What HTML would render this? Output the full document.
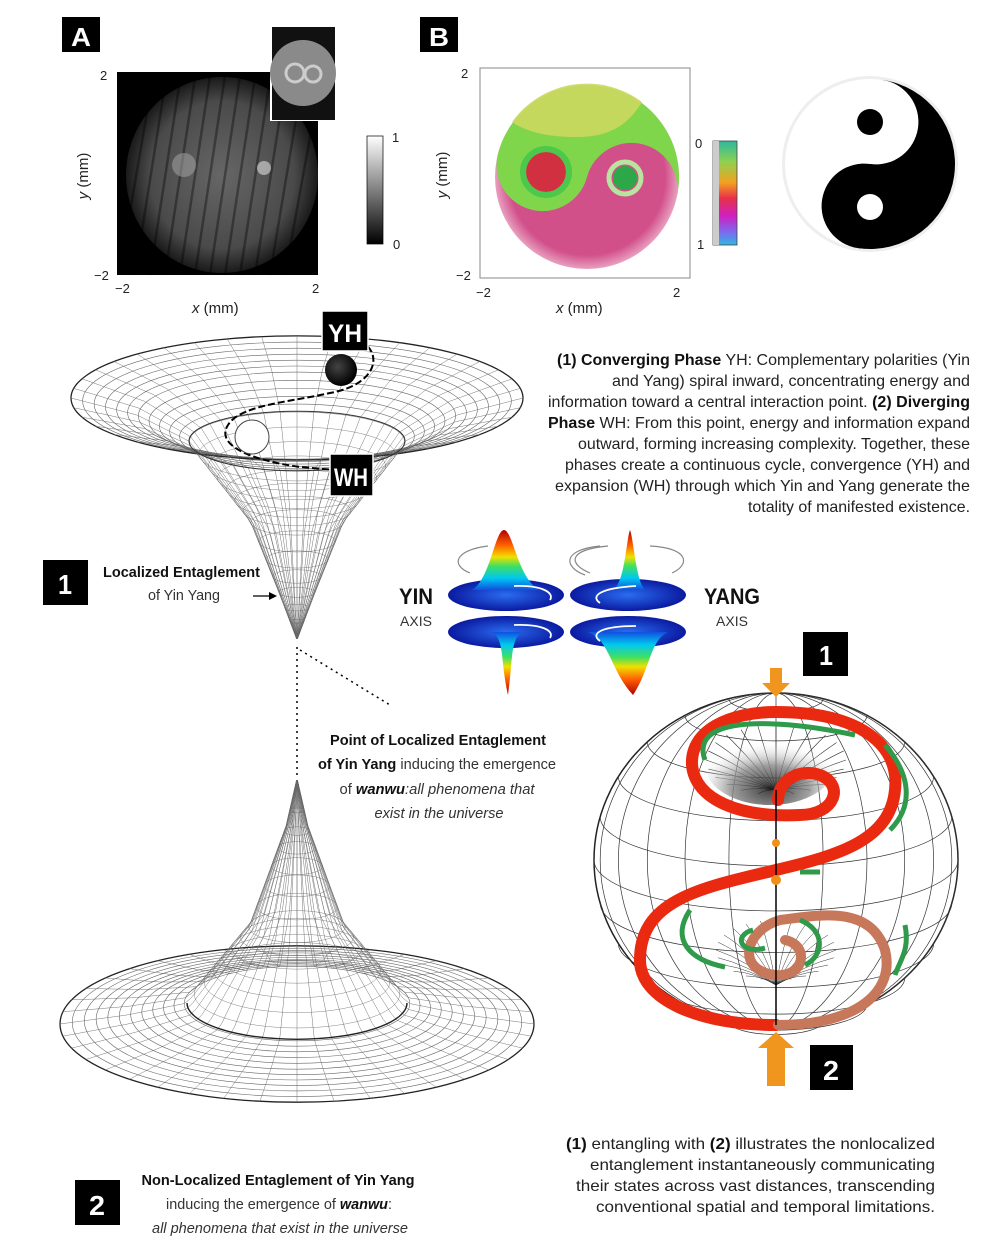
<!DOCTYPE html>
<html><head><meta charset="utf-8">
<style>
html,body{margin:0;padding:0;background:#fff;}
svg{display:block;font-family:"Liberation Sans",sans-serif;}
.t{font-size:16px;fill:#222;}
.b{font-weight:bold;fill:#111;}
.i{font-style:italic;}
</style></head><body>
<svg id="s" width="1000" height="1250" viewBox="0 0 1000 1250" xmlns="http://www.w3.org/2000/svg">
<defs>
<radialGradient id="gA" cx="0.5" cy="0.5" r="0.5"><stop offset="0" stop-color="#666"/><stop offset="0.75" stop-color="#4a4a4a"/><stop offset="1" stop-color="#1a1a1a"/></radialGradient>
<linearGradient id="cbA" x1="0" y1="0" x2="0" y2="1"><stop offset="0" stop-color="#fff"/><stop offset="1" stop-color="#000"/></linearGradient>
<linearGradient id="cbB" x1="0" y1="0" x2="0" y2="1"><stop offset="0" stop-color="#2cb9a0"/><stop offset="0.2" stop-color="#8fd14f"/><stop offset="0.4" stop-color="#f4a020"/><stop offset="0.55" stop-color="#e8304a"/><stop offset="0.72" stop-color="#d020c0"/><stop offset="0.88" stop-color="#7a6cf0"/><stop offset="1" stop-color="#30b8e0"/></linearGradient>
<linearGradient id="peakUp" x1="0" y1="0" x2="0" y2="1"><stop offset="0" stop-color="#b00000"/><stop offset="0.25" stop-color="#ff6000"/><stop offset="0.45" stop-color="#f0e000"/><stop offset="0.6" stop-color="#40e060"/><stop offset="0.8" stop-color="#00c8f0"/><stop offset="1" stop-color="#1050e0"/></linearGradient>
<linearGradient id="peakDn" x1="0" y1="1" x2="0" y2="0"><stop offset="0" stop-color="#b00000"/><stop offset="0.25" stop-color="#ff6000"/><stop offset="0.45" stop-color="#f0e000"/><stop offset="0.6" stop-color="#40e060"/><stop offset="0.8" stop-color="#00c8f0"/><stop offset="1" stop-color="#1050e0"/></linearGradient>
<radialGradient id="disc" cx="0.5" cy="0.5" r="0.5"><stop offset="0" stop-color="#2a6cf0"/><stop offset="1" stop-color="#0a1aa0"/></radialGradient>
<radialGradient id="ball" cx="0.4" cy="0.4" r="0.6"><stop offset="0" stop-color="#444"/><stop offset="1" stop-color="#000"/></radialGradient>
<radialGradient id="hole" cx="0.5" cy="0.8" r="0.6"><stop offset="0" stop-color="#111"/><stop offset="0.5" stop-color="#888"/><stop offset="1" stop-color="#fff" stop-opacity="0"/></radialGradient>
<radialGradient id="pk" cx="0.5" cy="0.5" r="0.5"><stop offset="0.85" stop-color="#d2508a"/><stop offset="1" stop-color="#e8a0c0"/></radialGradient>
<clipPath id="rh"><rect x="0" y="-90" width="90" height="180"/></clipPath>
</defs>

<!-- Panel A -->
<rect x="62" y="17" width="38" height="35" fill="#000"/>
<text x="81" y="46" font-size="26" font-weight="bold" fill="#fff" text-anchor="middle" textLength="20" lengthAdjust="spacingAndGlyphs">A</text>
<rect x="117" y="72" width="201" height="203" fill="#000"/>
<ellipse cx="222" cy="175" rx="96" ry="98" fill="url(#gA)"/>
<g stroke="#000" stroke-width="2.5" opacity="0.35">
<line x1="150" y1="95" x2="120" y2="270"/><line x1="165" y1="85" x2="135" y2="275"/><line x1="180" y1="80" x2="150" y2="275"/><line x1="195" y1="78" x2="165" y2="275"/><line x1="210" y1="76" x2="180" y2="275"/><line x1="225" y1="76" x2="195" y2="275"/><line x1="240" y1="76" x2="210" y2="275"/><line x1="255" y1="78" x2="225" y2="275"/><line x1="270" y1="80" x2="240" y2="275"/><line x1="285" y1="85" x2="255" y2="275"/><line x1="300" y1="95" x2="270" y2="275"/><line x1="315" y1="110" x2="285" y2="275"/>
</g>
<circle cx="184" cy="165" r="12" fill="#aaa" opacity="0.5"/><circle cx="264" cy="168" r="7" fill="#ddd" opacity="0.6"/>
<rect x="270" y="26" width="66" height="95" fill="#fff"/>
<rect x="272" y="27" width="63" height="93" fill="#111"/>
<circle cx="303" cy="73" r="33" fill="#8a8a8a"/>
<circle cx="295" cy="73" r="9" fill="none" stroke="#ccc" stroke-width="3"/><circle cx="313" cy="74" r="8" fill="none" stroke="#ccc" stroke-width="3"/>
<rect x="367" y="136" width="16" height="108" fill="url(#cbA)" stroke="#000" stroke-width="0.7"/>
<text x="392" y="142" font-size="13" fill="#222">1</text><text x="393" y="249" font-size="13" fill="#222">0</text>
<text x="100" y="80" font-size="13" fill="#222">2</text>
<text x="94" y="280" font-size="13" fill="#222">−2</text>
<text x="115" y="293" font-size="13" fill="#222">−2</text>
<text x="312" y="293" font-size="13" fill="#222">2</text>
<text x="192" y="313" font-size="15" fill="#222"><tspan font-style="italic">x</tspan> (mm)</text>
<text transform="translate(88,176) rotate(-90)" font-size="15" fill="#222" text-anchor="middle"><tspan font-style="italic">y</tspan> (mm)</text>

<!-- Panel B -->
<rect x="420" y="17" width="38" height="35" fill="#000"/>
<text x="439" y="46" font-size="26" font-weight="bold" fill="#fff" text-anchor="middle" textLength="20" lengthAdjust="spacingAndGlyphs">B</text>
<rect x="480" y="68" width="210" height="210" fill="#fff" stroke="#888" stroke-width="1"/>
<g transform="translate(587,177)">
<circle r="92" fill="url(#pk)"/>
<g transform="scale(-1,1) rotate(75)">
<path d="M0,-92 A92,92 0 0 0 0,92 A46,46 0 0 1 0,0 A46,46 0 0 0 0,-92Z" fill="#7fd64a"/>
</g>
<path d="M-75,-55 A92,92 0 0 1 55,-75 C40,-50 20,-40 -10,-40 C-40,-40 -60,-45 -75,-55Z" fill="#cdd860" opacity="0.9"/>
<circle cx="-41" cy="-5" r="20" fill="#d03040"/><circle cx="-41" cy="-5" r="23" fill="none" stroke="#4cc84c" stroke-width="6"/>
<circle cx="38" cy="1" r="12" fill="#2ca848"/><circle cx="38" cy="1" r="16" fill="none" stroke="#b8e4a0" stroke-width="5"/>
</g>
<rect x="713" y="141" width="24" height="104" fill="url(#cbB)" stroke="#444" stroke-width="0.8"/>
<rect x="713" y="141" width="6" height="104" fill="#ccc"/>
<text x="695" y="148" font-size="13" fill="#222">0</text><text x="697" y="249" font-size="13" fill="#222">1</text>
<text x="461" y="78" font-size="13" fill="#222">2</text>
<text x="456" y="280" font-size="13" fill="#222">−2</text>
<text x="476" y="297" font-size="13" fill="#222">−2</text>
<text x="673" y="297" font-size="13" fill="#222">2</text>
<text x="556" y="313" font-size="15" fill="#222"><tspan font-style="italic">x</tspan> (mm)</text>
<text transform="translate(447,175) rotate(-90)" font-size="15" fill="#222" text-anchor="middle"><tspan font-style="italic">y</tspan> (mm)</text>

<!-- Yin yang -->
<circle cx="870" cy="164" r="88" fill="#ddd" opacity="0.5"/>
<g transform="translate(870,164) rotate(8)">
<circle r="85" fill="#fff"/>
<circle r="85" fill="#000" clip-path="url(#rh)"/>
<circle cx="0" cy="-42.5" r="42.5" fill="#fff"/>
<circle cx="0" cy="42.5" r="42.5" fill="#000"/>
</g>
<circle cx="870" cy="122" r="13" fill="#000"/>
<circle cx="870" cy="207" r="13" fill="#fff"/>

<!-- wormholes -->
<g id="wh1" fill="none" stroke="#666" stroke-width="0.6"></g>
<g id="wh2" fill="none" stroke="#666" stroke-width="0.6"></g>

<!-- dashed path -->
<path d="M360,340 C385,355 375,385 330,393 C290,402 240,405 228,425 C215,445 250,460 300,467 L335,470" fill="none" stroke="#000" stroke-width="2" stroke-dasharray="7,3"/>
<circle cx="341" cy="370" r="16" fill="url(#ball)"/>
<circle cx="252" cy="437" r="17" fill="#fff" stroke="#444" stroke-width="1"/>
<rect x="322" y="311" width="46" height="40" fill="#000" stroke="#fff" stroke-width="1.5"/>
<text x="345" y="342" font-size="25" font-weight="bold" fill="#fff" text-anchor="middle" textLength="34" lengthAdjust="spacingAndGlyphs">YH</text>
<rect x="330" y="454" width="43" height="42" fill="#000" stroke="#fff" stroke-width="1.5"/>
<text x="351" y="486" font-size="25" font-weight="bold" fill="#fff" text-anchor="middle" textLength="34" lengthAdjust="spacingAndGlyphs">WH</text>

<!-- dotted connectors -->
<line x1="297" y1="647" x2="297" y2="775" stroke="#000" stroke-width="1.5" stroke-dasharray="2,4"/>
<line x1="300" y1="650" x2="390" y2="705" stroke="#000" stroke-width="1.5" stroke-dasharray="2,4"/>

<!-- paragraph -->
<g class="t" text-anchor="end">
<text x="970" y="365" textLength="413" lengthAdjust="spacingAndGlyphs"><tspan class="b">(1) Converging Phase</tspan> YH: Complementary polarities (Yin</text>
<text x="970" y="386" textLength="358" lengthAdjust="spacingAndGlyphs">and Yang) spiral inward, concentrating energy and</text>
<text x="970" y="407" textLength="422" lengthAdjust="spacingAndGlyphs">information toward a central interaction point. <tspan class="b">(2) Diverging</tspan></text>
<text x="970" y="428" textLength="422" lengthAdjust="spacingAndGlyphs"><tspan class="b">Phase</tspan> WH: From this point, energy and information expand</text>
<text x="970" y="449" textLength="392" lengthAdjust="spacingAndGlyphs">outward, forming increasing complexity. Together, these</text>
<text x="970" y="470" textLength="405" lengthAdjust="spacingAndGlyphs">phases create a continuous cycle, convergence (YH) and</text>
<text x="970" y="491" textLength="415" lengthAdjust="spacingAndGlyphs">expansion (WH) through which Yin and Yang generate the</text>
<text x="970" y="512" textLength="222" lengthAdjust="spacingAndGlyphs">totality of manifested existence.</text>
</g>

<!-- label 1 left -->
<rect x="43" y="560" width="45" height="45" fill="#000"/>
<text x="65" y="594" font-size="28" font-weight="bold" fill="#fff" text-anchor="middle" textLength="14" lengthAdjust="spacingAndGlyphs">1</text>
<text x="103" y="577" font-size="15" class="b" textLength="157" lengthAdjust="spacingAndGlyphs">Localized Entaglement</text>
<text x="148" y="600" font-size="15" fill="#333" textLength="72" lengthAdjust="spacingAndGlyphs">of Yin Yang</text>
<line x1="253" y1="596" x2="272" y2="596" stroke="#000" stroke-width="1.3"/><path d="M277,596 L269,592 L269,600Z" fill="#000"/>

<!-- middle text -->
<g text-anchor="middle" font-size="15">
<text x="438" y="745" class="b" textLength="216" lengthAdjust="spacingAndGlyphs">Point of Localized Entaglement</text>
<text x="437" y="769" fill="#333" textLength="238" lengthAdjust="spacingAndGlyphs"><tspan class="b">of Yin Yang</tspan> inducing the emergence</text>
<text x="437" y="794" fill="#333" textLength="195" lengthAdjust="spacingAndGlyphs">of <tspan class="b i">wanwu</tspan><tspan class="i">:all phenomena that</tspan></text>
<text x="439" y="818" fill="#333" class="i" textLength="129" lengthAdjust="spacingAndGlyphs">exist in the universe</text>
</g>

<!-- bottom left text -->
<rect x="75" y="1180" width="45" height="45" fill="#000"/>
<text x="97" y="1215" font-size="28" font-weight="bold" fill="#fff" text-anchor="middle" textLength="16" lengthAdjust="spacingAndGlyphs">2</text>
<g text-anchor="middle" font-size="15">
<text x="278" y="1185" class="b" textLength="273" lengthAdjust="spacingAndGlyphs">Non-Localized Entaglement of Yin Yang</text>
<text x="279" y="1209" fill="#333" textLength="226" lengthAdjust="spacingAndGlyphs">inducing the emergence of <tspan class="b i">wanwu</tspan>:</text>
<text x="280" y="1233" fill="#333" class="i" textLength="256" lengthAdjust="spacingAndGlyphs">all phenomena that exist in the universe</text>
</g>

<!-- YIN / YANG figure -->
<text x="416" y="604" font-size="22" font-weight="bold" fill="#111" text-anchor="middle" textLength="34" lengthAdjust="spacingAndGlyphs">YIN</text>
<text x="416" y="626" font-size="14" fill="#333" text-anchor="middle">AXIS</text>
<text x="732" y="604" font-size="22" font-weight="bold" fill="#111" text-anchor="middle" textLength="56" lengthAdjust="spacingAndGlyphs">YANG</text>
<text x="732" y="626" font-size="14" fill="#333" text-anchor="middle">AXIS</text>
<ellipse cx="506" cy="595" rx="58" ry="16" fill="url(#disc)"/>
<path d="M472,590 C490,580 495,530 504,530 C513,530 518,580 540,590 Z" fill="url(#peakUp)"/>
<path d="M514,586 C540,585 555,592 550,600" stroke="#fff" stroke-width="1.8" fill="none"/>
<ellipse cx="506" cy="632" rx="58" ry="16" fill="url(#disc)"/>
<path d="M492,632 C505,640 500,660 508,695 C513,660 510,640 522,632 Z" fill="url(#peakDn)"/>
<path d="M514,625 C540,624 555,630 550,638" stroke="#fff" stroke-width="1.8" fill="none"/>
<ellipse cx="628" cy="595" rx="58" ry="16" fill="url(#disc)"/>
<path d="M612,590 C625,585 626,540 630,530 C634,540 636,585 646,590 Z" fill="url(#peakUp)"/>
<path d="M600,603 C590,596 600,588 636,586" stroke="#fff" stroke-width="1.8" fill="none"/>
<ellipse cx="628" cy="632" rx="58" ry="16" fill="url(#disc)"/>
<path d="M588,632 C610,640 610,670 633,695 C650,670 650,640 668,632 Z" fill="url(#peakDn)"/>
<path d="M600,641 C590,634 600,626 636,626" stroke="#fff" stroke-width="1.8" fill="none"/>
<g fill="none" stroke="#888" stroke-width="1.2">
<path d="M488,546 C455,550 450,565 470,573"/><path d="M608,546 C565,550 570,565 590,573"/><path d="M600,546 C560,550 565,568 585,575"/><path d="M650,546 C690,548 690,565 672,573"/>
</g>

<!-- sphere -->
<g id="sph" fill="none" stroke="#333" stroke-width="0.8"></g>
<ellipse cx="770" cy="765" rx="65" ry="40" fill="url(#hole)" opacity="0.8"/>
<g fill="none" stroke-linecap="round">
<path d="M778,800 C778,780 800,768 820,775 C845,785 835,815 800,815 C740,818 695,800 692,765 C690,730 730,712 776,712 C860,712 900,745 895,790 C890,840 840,855 776,870 C700,888 640,900 640,960 C640,1000 700,1025 776,1025" stroke="#ea2a10" stroke-width="12"/>
<path d="M778,1025 C860,1025 895,990 885,950 C870,905 820,915 780,920 C745,930 735,970 775,975 C805,978 810,945 785,940" stroke="#c8785a" stroke-width="10"/>
</g>
<g fill="none" stroke="#2e9a4a" stroke-width="5">
<path d="M705,760 C690,720 760,715 855,735"/><path d="M885,745 C915,780 910,810 890,830"/><path d="M690,910 C670,940 690,960 725,967"/><path d="M753,930 C733,935 740,955 765,948"/><path d="M800,920 C825,930 825,955 805,965"/><path d="M905,925 C910,950 900,960 895,975"/>
<path d="M820,872 L800,872"/>
</g>
<line x1="776" y1="790" x2="776" y2="1025" stroke="#000" stroke-width="1.5"/>
<circle cx="776" cy="843" r="4" fill="#f0901a"/><circle cx="776" cy="880" r="5" fill="#f0901a"/>
<path d="M770,668 L782,668 L782,683 L790,683 L776,697 L762,683 L770,683Z" fill="#f0961e"/>
<path d="M776,1032 L794,1048 L785,1048 L785,1086 L767,1086 L767,1048 L758,1048Z" fill="#f0961e"/>
<rect x="803" y="632" width="45" height="44" fill="#000"/>
<text x="826" y="665" font-size="28" font-weight="bold" fill="#fff" text-anchor="middle" textLength="14" lengthAdjust="spacingAndGlyphs">1</text>
<rect x="810" y="1045" width="43" height="45" fill="#000"/>
<text x="831" y="1080" font-size="28" font-weight="bold" fill="#fff" text-anchor="middle" textLength="16" lengthAdjust="spacingAndGlyphs">2</text>

<!-- bottom right text -->
<g class="t" text-anchor="end">
<text x="935" y="1149" textLength="369" lengthAdjust="spacingAndGlyphs"><tspan class="b">(1)</tspan> entangling with <tspan class="b">(2)</tspan> illustrates the nonlocalized</text>
<text x="935" y="1170" textLength="345" lengthAdjust="spacingAndGlyphs">entanglement instantaneously communicating</text>
<text x="935" y="1191" textLength="359" lengthAdjust="spacingAndGlyphs">their states across vast distances, transcending</text>
<text x="935" y="1212" textLength="339" lengthAdjust="spacingAndGlyphs">conventional spatial and temporal limitations.</text>
</g>
</svg>
<script>
(function(){
var NS="http://www.w3.org/2000/svg";
function interp(tr,ty,r){for(var i=0;i<tr.length-1;i++){if(r<=tr[i+1]){var f=(r-tr[i])/(tr[i+1]-tr[i]);return ty[i]+f*(ty[i+1]-ty[i]);}}return ty[ty.length-1];}
function mk(g,d,w,c){var p=document.createElementNS(NS,"path");p.setAttribute("d",d);if(w)p.setAttribute("stroke-width",w);if(c)p.setAttribute("stroke",c);g.appendChild(p);}
function worm(id,cx,tr,ty,k,R,throat,frontOnly){
 var g=document.getElementById(id);var N=26;
 for(var i=1;i<=N;i++){var r=R*Math.pow(i/N,1.35);var yc=interp(tr,ty,r);var ry=k*r;
  var last=(i==N);
  mk(g,"M"+(cx-r)+","+yc+" A"+r+","+ry+" 0 1 0 "+(cx+r)+","+yc+" A"+r+","+ry+" 0 1 0 "+(cx-r)+","+yc,last?1.3:(r<throat?0.4:0.6),last?"#222":null);}
 for(var a=0;a<40;a++){var th=a/40*2*Math.PI,d="";
  for(var j=0;j<=40;j++){var r=R*Math.pow(j/40,1.35)+0.5;var yc=interp(tr,ty,r);var x=cx+r*Math.cos(th),y=yc+k*r*Math.sin(th);d+=(j?"L":"M")+x.toFixed(1)+","+y.toFixed(1);}
  mk(g,d,0.45);}
 var r=throat,yc=interp(tr,ty,r);
 if(frontOnly) mk(g,"M"+(cx-r)+","+yc+" A"+r+","+(k*r)+" 0 0 0 "+(cx+r)+","+yc,1.4,"#222");
 else mk(g,"M"+(cx-r)+","+yc+" A"+r+","+(k*r)+" 0 1 0 "+(cx+r)+","+yc+" A"+r+","+(k*r)+" 0 1 0 "+(cx-r)+","+yc,1,"#333");
}
worm("wh1",297,[0,17,47,108,160,226],[640,595,520,441,415,398],0.275,226,108,false);
worm("wh2",297,[0,11,47,110,170,237],[778,826,925,1003,1015,1024],0.33,237,110,true);
var g=document.getElementById("sph"),cx=776,cy=860,rx=182,ry=167;
mk(g,"M"+(cx-rx)+","+cy+" A"+rx+","+ry+" 0 1 0 "+(cx+rx)+","+cy+" A"+rx+","+ry+" 0 1 0 "+(cx-rx)+","+cy,1.5,"#222");
for(var i=1;i<12;i++){var lat=-Math.PI/2+i*Math.PI/12;var y=cy+ry*Math.sin(lat);var r=rx*Math.cos(lat);var e=r*0.28;
 mk(g,"M"+(cx-r)+","+y+" A"+r+","+e+" 0 0 0 "+(cx+r)+","+y,0.7);}
for(var i=0;i<12;i++){var ph=i*Math.PI/12;var r=Math.abs(rx*Math.cos(ph));
 mk(g,"M"+cx+","+(cy-ry)+" A"+r.toFixed(1)+","+ry+" 0 0 "+(i<6?1:0)+" "+cx+","+(cy+ry),0.7);}
for(var i=0;i<24;i++){var a=i/24*2*Math.PI;mk(g,"M776,790 Q"+(776+40*Math.cos(a))+","+(770+20*Math.sin(a))+" "+(776+70*Math.cos(a))+","+(760+35*Math.sin(a)),0.6);
 mk(g,"M776,985 Q"+(776+30*Math.cos(a))+","+(960+18*Math.sin(a))+" "+(776+60*Math.cos(a))+","+(950+30*Math.sin(a)),0.5);}
})();
</script>
</body></html>
